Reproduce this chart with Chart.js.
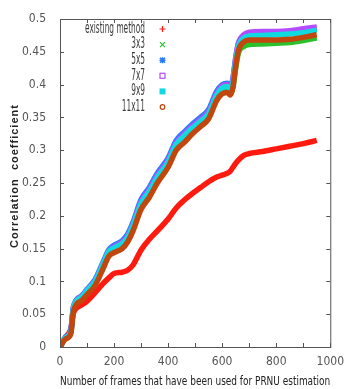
<!DOCTYPE html>
<html lang="en">
<head>
    <meta charset="UTF-8">
    <title>Correlation coefficient</title>
    <script src="https://cdn.jsdelivr.net/npm/chart.js"></script>
    <style>
        html, body { margin: 0; padding: 0; background: #fff; }
        #wrap { width: 344px; height: 389px; }
    </style>
</head>
<body>
    <div id="wrap"><canvas id="corrChart" width="344" height="389"></canvas></div>

    <script>
        // frame counts shared by all series
        const frames = [0, 20, 40, 50, 80, 100, 130, 160, 180, 200, 230, 250, 270, 300, 330, 360, 400, 430, 460, 490,
                        520, 550, 580, 600, 620, 630, 640, 650, 660, 680, 700, 750, 800, 850, 900, 950];

        const existingMethod = [0, 0.015, 0.028, 0.052, 0.064, 0.07, 0.083, 0.097, 0.105, 0.112, 0.114, 0.117, 0.125, 0.148, 0.164, 0.177, 0.195, 0.212, 0.224, 0.234,
                                0.243, 0.252, 0.259, 0.262, 0.265, 0.268, 0.274, 0.28, 0.285, 0.292, 0.295, 0.298, 0.302, 0.306, 0.31, 0.315];
        const w3x3 = [0, 0.013, 0.022, 0.059, 0.075, 0.085, 0.099, 0.125, 0.143, 0.15, 0.157, 0.166, 0.183, 0.217, 0.234, 0.256, 0.279, 0.306, 0.318, 0.33,
                      0.34, 0.352, 0.38, 0.39, 0.39, 0.386, 0.396, 0.425, 0.448, 0.458, 0.461, 0.462, 0.463, 0.464, 0.467, 0.471];
        const w5x5 = [0, 0.015, 0.025, 0.062, 0.078, 0.088, 0.103, 0.13, 0.148, 0.155, 0.162, 0.172, 0.19, 0.225, 0.243, 0.265, 0.288, 0.315, 0.328, 0.34,
                      0.35, 0.362, 0.39, 0.4, 0.402, 0.398, 0.41, 0.44, 0.462, 0.474, 0.478, 0.479, 0.48, 0.481, 0.484, 0.486];
        const w7x7 = [0, 0.014, 0.024, 0.061, 0.077, 0.087, 0.101, 0.128, 0.146, 0.153, 0.16, 0.169, 0.187, 0.222, 0.24, 0.262, 0.285, 0.312, 0.325, 0.337,
                      0.347, 0.359, 0.387, 0.398, 0.4, 0.396, 0.408, 0.44, 0.463, 0.476, 0.48, 0.481, 0.481, 0.482, 0.485, 0.488];
        const w9x9 = [0, 0.014, 0.023, 0.06, 0.076, 0.086, 0.1, 0.127, 0.145, 0.151, 0.158, 0.167, 0.185, 0.219, 0.237, 0.259, 0.282, 0.309, 0.322, 0.334,
                      0.344, 0.356, 0.384, 0.395, 0.397, 0.393, 0.404, 0.435, 0.458, 0.471, 0.474, 0.475, 0.476, 0.477, 0.479, 0.483];
        const w11x11 = [0, 0.012, 0.02, 0.055, 0.071, 0.08, 0.094, 0.12, 0.138, 0.144, 0.15, 0.16, 0.177, 0.21, 0.228, 0.25, 0.274, 0.3, 0.312, 0.325,
                        0.336, 0.348, 0.376, 0.386, 0.388, 0.384, 0.396, 0.428, 0.452, 0.465, 0.468, 0.468, 0.468, 0.469, 0.472, 0.476];

        const seriesNames = ['existing method', '3x3', '5x5', '7x7', '9x9', '11x11'];
        const seriesColors = ['#ff1a10', '#2cc02c', '#2a7cff', '#b44cff', '#10dae0', '#c2470e'];
        const seriesValues = [existingMethod, w3x3, w5x5, w7x7, w9x9, w11x11];

        const xTicks = [0, 100, 200, 300, 400, 500, 600, 700, 800, 900, 1000];
        const yTicks = [0, 0.05, 0.1, 0.15, 0.2, 0.25, 0.3, 0.35, 0.4, 0.45, 0.5];

        const narrow = '"Liberation Sans Narrow", "DejaVu Sans Condensed", sans-serif';
        const tickFont = { family: narrow, size: 12 };

        // gnuplot style key markers
        function drawMarker(ctx, kind, x, y, color) {
            ctx.strokeStyle = color;
            ctx.fillStyle = color;
            ctx.lineWidth = 1.2;
            ctx.beginPath();
            if (kind === 0) {            // +
                ctx.moveTo(x - 3, y); ctx.lineTo(x + 3, y);
                ctx.moveTo(x, y - 3); ctx.lineTo(x, y + 3);
                ctx.stroke();
            } else if (kind === 1) {     // x
                ctx.moveTo(x - 2.5, y - 2.5); ctx.lineTo(x + 2.5, y + 2.5);
                ctx.moveTo(x - 2.5, y + 2.5); ctx.lineTo(x + 2.5, y - 2.5);
                ctx.stroke();
            } else if (kind === 2) {     // *
                ctx.moveTo(x - 2.5, y - 2.5); ctx.lineTo(x + 2.5, y + 2.5);
                ctx.moveTo(x - 2.5, y + 2.5); ctx.lineTo(x + 2.5, y - 2.5);
                ctx.moveTo(x - 3, y); ctx.lineTo(x + 3, y);
                ctx.moveTo(x, y - 3); ctx.lineTo(x, y + 3);
                ctx.lineWidth = 1.6;
                ctx.stroke();
            } else if (kind === 3) {     // open square
                ctx.strokeRect(x - 2.5, y - 2.5, 5, 5);
            } else if (kind === 4) {     // filled square
                ctx.fillRect(x - 3, y - 3, 6, 6);
            } else {                     // open circle
                ctx.arc(x, y, 2.3, 0, Math.PI * 2);
                ctx.stroke();
            }
        }

        // gnuplot-like frame with inward ticks on all four sides, plus key and y title
        const framePlugin = {
            id: 'frame',
            afterDraw(chart) {
                const { ctx, chartArea: a, scales } = chart;
                ctx.save();
                ctx.strokeStyle = '#555';
                ctx.lineWidth = 1;
                ctx.strokeRect(a.left + 0.5, a.top + 0.5, a.right - a.left, a.bottom - a.top);
                ctx.beginPath();
                xTicks.forEach(v => {
                    const px = Math.round(scales.x.getPixelForValue(v)) + 0.5;
                    ctx.moveTo(px, a.bottom); ctx.lineTo(px, a.bottom - 4);
                    ctx.moveTo(px, a.top); ctx.lineTo(px, a.top + 4);
                });
                yTicks.forEach(v => {
                    const py = Math.round(scales.y.getPixelForValue(v)) + 0.5;
                    ctx.moveTo(a.left, py); ctx.lineTo(a.left + 4, py);
                    ctx.moveTo(a.right, py); ctx.lineTo(a.right - 4, py);
                });
                ctx.stroke();

                // key: narrow text right aligned, marker to its right
                ctx.font = '15px ' + narrow;
                ctx.textAlign = 'right';
                ctx.textBaseline = 'middle';
                const sx = Math.min(1, 60 / ctx.measureText(seriesNames[0]).width);
                seriesNames.forEach((name, i) => {
                    const y = 29 + i * 15.6;
                    ctx.save();
                    ctx.translate(145, y);
                    ctx.scale(sx, 1);
                    ctx.fillStyle = '#3a3a3a';
                    ctx.fillText(name, 0, 0);
                    ctx.restore();
                    drawMarker(ctx, i, 162.5, y, seriesColors[i]);
                });

                // y title, letter spaced
                ctx.save();
                ctx.translate(15, 176);
                ctx.rotate(-Math.PI / 2);
                ctx.font = 'bold 11px "Liberation Sans", Arial, sans-serif';
                ctx.letterSpacing = '1px';
                ctx.fillStyle = '#222';
                ctx.textAlign = 'center';
                ctx.textBaseline = 'middle';
                ctx.fillText('Correlation  coefficient', 0, 0);
                ctx.restore();

                ctx.restore();
            }
        };

        // first series drawn first, 11x11 ends up on top (as in the original plot)
        const datasets = seriesValues.map((vals, i) => ({
            label: seriesNames[i],
            data: frames.map((f, k) => ({ x: f, y: vals[k] })),
            borderColor: seriesColors[i],
            backgroundColor: seriesColors[i],
            borderWidth: 5.5,
            pointRadius: 0,
            cubicInterpolationMode: 'monotone',
            fill: false,
            order: seriesValues.length - i
        }));

        new Chart(document.getElementById('corrChart').getContext('2d'), {
            type: 'line',
            data: { datasets },
            options: {
                responsive: false,
                animation: false,
                layout: { padding: { top: 19, right: 10, left: 0, bottom: 0 } },
                plugins: { legend: { display: false }, tooltip: { enabled: false } },
                scales: {
                    x: {
                        type: 'linear',
                        min: 0, max: 1000,
                        afterBuildTicks: s => { s.ticks = xTicks.map(v => ({ value: v })); },
                        afterFit: s => { s.height = 42; },
                        grid: { display: false },
                        border: { display: false },
                        ticks: { color: '#555', font: tickFont, padding: 0, maxRotation: 0, callback: v => String(v) },
                        title: {
                            display: true,
                            text: 'Number of frames that have been used for PRNU estimation',
                            color: '#222',
                            font: { family: narrow, size: 12 },
                            padding: { top: 4, bottom: 0 }
                        }
                    },
                    y: {
                        min: 0, max: 0.5,
                        afterBuildTicks: s => { s.ticks = yTicks.map(v => ({ value: v })); },
                        afterFit: s => { s.width = 60; },
                        grid: { display: false },
                        border: { display: false },
                        ticks: { color: '#555', font: tickFont, padding: 6, callback: v => String(+v.toFixed(2)) }
                    }
                }
            },
            plugins: [framePlugin]
        });
    </script>
</body>
</html>
